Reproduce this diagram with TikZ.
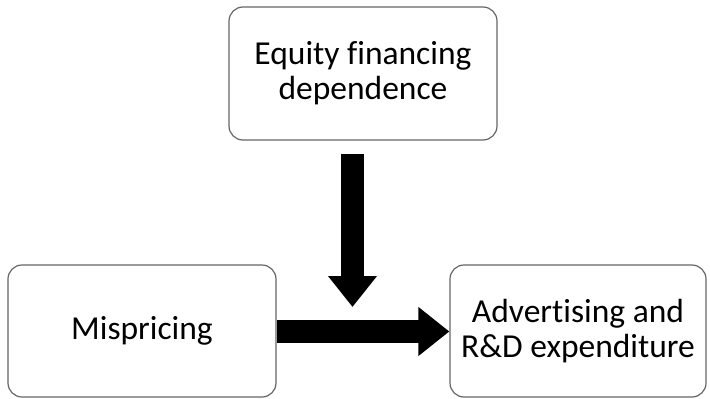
\documentclass[tikz,border=0pt]{standalone}
\usepackage{fontspec}
\setmainfont[Ligatures=NoCommon]{Carlito}
\usetikzlibrary{arrows.meta}
\begin{document}
\begin{tikzpicture}[x=1pt,y=-1pt,
  box/.style={draw=black!60, line width=1.2pt, rounded corners=14pt, fill=white,
    align=center, inner sep=0pt, font=\fontsize{33.5}{35}\selectfont},
  fat/.style={line width=23.5pt, draw=black, -{Triangle[length=31pt,width=47pt]}}]
\useasboundingbox (0,0) rectangle (710,399);
\node[box, minimum width=268pt, minimum height=133pt] (top) at (363,73.5) {Equity financing\\dependence};
\node[box, minimum width=268pt, minimum height=132pt] (mis) at (142,331) {Mispricing};
\node[box, minimum width=256pt, minimum height=132pt] (adv) at (578,331) {Advertising and\\R\&D expenditure};
\coordinate (vstart) at (352.5,154);
\coordinate (vtip) at (352.5,307);
\draw[fat] (vstart) -- (vtip);
\draw[fat] ([yshift=-0.5pt]mis.east) -- ([yshift=-0.5pt]adv.west);
\end{tikzpicture}
\end{document}
